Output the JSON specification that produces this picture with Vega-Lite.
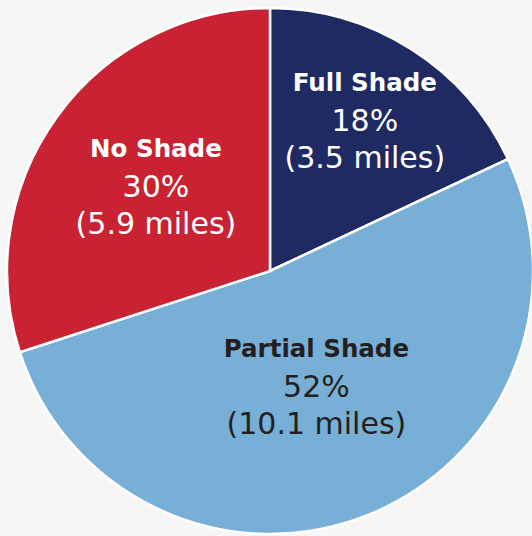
{
  "$schema": "https://vega.github.io/schema/vega-lite/v6.json",
  "width": 540,
  "height": 542,
  "autosize": {"type": "none"},
  "padding": 0,
  "background": "#f6f6f6",
  "view": {"stroke": null},
  "data": {"values": [
    {"category": "Full Shade", "pct": 18, "label": "18%", "miles": "(3.5 miles)", "rank": 1},
    {"category": "Partial Shade", "pct": 52, "label": "52%", "miles": "(10.1 miles)", "rank": 2},
    {"category": "No Shade", "pct": 30, "label": "30%", "miles": "(5.9 miles)", "rank": 3}
  ]},
  "encoding": {
    "theta": {"field": "pct", "type": "quantitative", "stack": true},
    "order": {"field": "rank", "type": "quantitative"}
  },
  "layer": [
    {
      "mark": {"type": "arc", "outerRadius": 263, "stroke": "white", "strokeWidth": 2.5},
      "encoding": {
        "color": {"field": "category", "type": "nominal",
          "scale": {"domain": ["Full Shade", "Partial Shade", "No Shade"], "range": ["#1f2a62", "#78afd6", "#c92233"]},
          "legend": null}
      }
    },
    {
      "mark": {"type": "text", "radius": {"expr": "datum.category === 'Full Shade' ? 177 : datum.category === 'No Shade' ? 141 : 126"},
        "dy": -38, "font": "DejaVu Sans", "fontWeight": "bold", "fontSize": 24.5, "baseline": "middle", "align": "center"},
      "encoding": {
        "text": {"field": "category", "type": "nominal"},
        "color": {"condition": {"test": "datum.category === 'Partial Shade'", "value": "#231f20"}, "value": "white"}
      }
    },
    {
      "mark": {"type": "text", "radius": {"expr": "datum.category === 'Full Shade' ? 177 : datum.category === 'No Shade' ? 141 : 126"},
        "dy": 0, "font": "DejaVu Sans", "fontSize": 30, "baseline": "middle", "align": "center"},
      "encoding": {
        "text": {"field": "label", "type": "nominal"},
        "color": {"condition": {"test": "datum.category === 'Partial Shade'", "value": "#231f20"}, "value": "white"}
      }
    },
    {
      "mark": {"type": "text", "radius": {"expr": "datum.category === 'Full Shade' ? 177 : datum.category === 'No Shade' ? 141 : 126"},
        "dy": 37, "font": "DejaVu Sans", "fontSize": 30, "baseline": "middle", "align": "center"},
      "encoding": {
        "text": {"field": "miles", "type": "nominal"},
        "color": {"condition": {"test": "datum.category === 'Partial Shade'", "value": "#231f20"}, "value": "white"}
      }
    }
  ]
}
